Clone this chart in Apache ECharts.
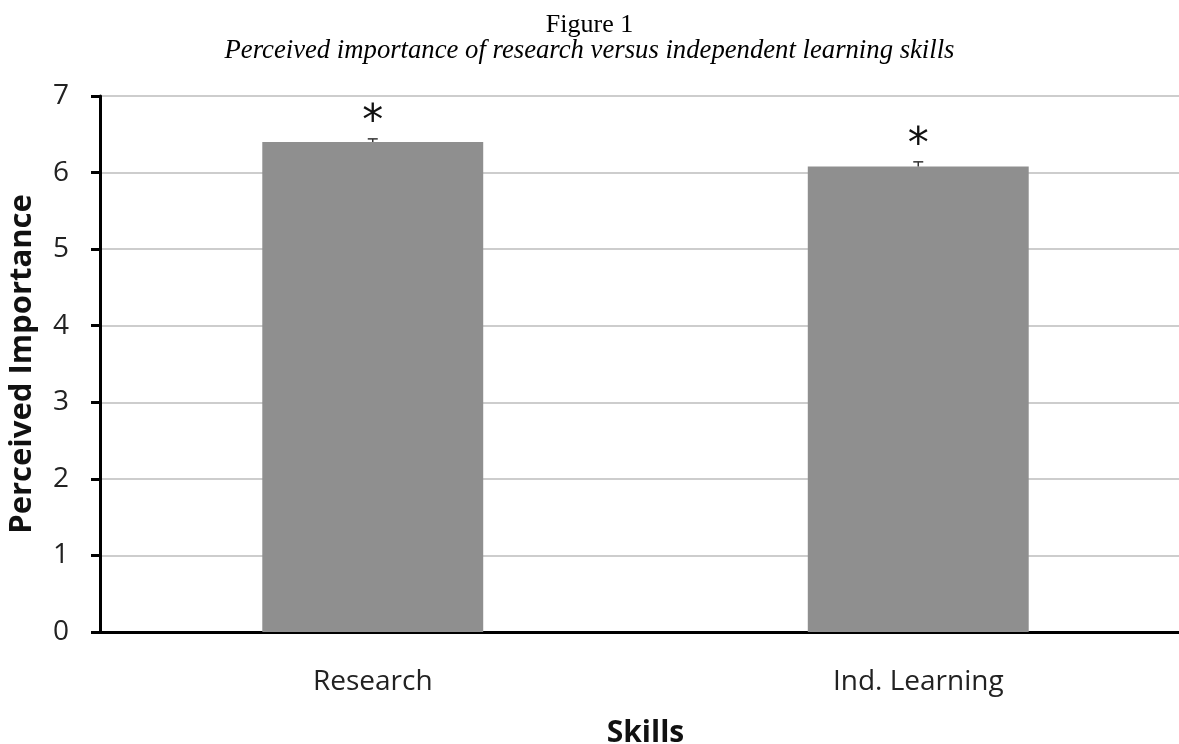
<!DOCTYPE html>
<html><head><meta charset="utf-8">
<script src="https://cdn.jsdelivr.net/npm/echarts@6/dist/echarts.min.js"></script>
<style>html,body{margin:0;padding:0;background:#fff}#c{width:1179px;height:744px}</style>
</head><body><div id="c"></div>
<script>
const categories = ['Research', 'Ind. Learning'];
const means = [6.4, 6.08];
const errors = [0.04, 0.06];
const marks = ['*', '*'];
const yTicks = [0, 1, 2, 3, 4, 5, 6, 7];

const chart = echarts.init(document.getElementById('c'));
const sans = 'Open Sans';
chart.setOption({
  animation: false,
  title: [
    {text: 'Figure 1', left: 'center', top: 7, textStyle: {fontFamily: 'Liberation Serif', fontWeight: 'normal', fontSize: 26, color: '#000'}},
    {text: 'Perceived importance of research versus independent learning skills', left: 'center', top: 32, textStyle: {fontFamily: 'Liberation Serif', fontStyle: 'italic', fontWeight: 'normal', fontSize: 26.7, color: '#000'}}
  ],
  grid: {left: 100, right: -12, top: 96, bottom: 112, containLabel: false, outerBoundsMode: 'none'},
  xAxis: {
    type: 'category', data: categories,
    axisLine: {lineStyle: {color: '#000', width: 3}},
    axisTick: {show: false},
    axisLabel: {fontFamily: sans, fontSize: 28, color: '#222', margin: 36},
    name: 'Skills', nameLocation: 'middle', nameGap: 86,
    nameTextStyle: {fontFamily: sans, fontWeight: 'bold', fontSize: 30, color: '#111'}
  },
  yAxis: {
    type: 'value', min: 0, max: 7, interval: 1,
    axisLine: {show: true, lineStyle: {color: '#000', width: 3}},
    axisTick: {show: true, inside: false, length: 9, lineStyle: {color: '#000', width: 3}},
    splitLine: {lineStyle: {color: '#bdbdbd', width: 1.5}},
    axisLabel: {fontFamily: sans, fontSize: 28, color: '#222', margin: 31,
      formatter: v => yTicks.includes(v) ? String(v) : ''},
    name: 'Perceived Importance', nameLocation: 'middle', nameGap: 62, nameRotate: 90,
    nameTextStyle: {fontFamily: sans, fontWeight: 'bold', fontSize: 31, color: '#111'}
  },
  series: [
    {type: 'bar', data: means, barWidth: '40.5%', itemStyle: {color: '#8f8f8f'}, z: 2},
    {
      type: 'custom', z: 3,
      data: means.map((m, i) => [i, m, errors[i]]),
      renderItem: (params, api) => {
        const i = api.value(0), m = api.value(1), e = api.value(2);
        const top = api.coord([i, m + e]);
        const base = api.coord([i, m]);
        const cap = 5;
        return {type: 'group', children: [
          {type: 'line', shape: {x1: top[0], y1: top[1], x2: base[0], y2: base[1]}, style: {stroke: '#333', lineWidth: 1.5}},
          {type: 'line', shape: {x1: top[0] - cap, y1: top[1], x2: top[0] + cap, y2: top[1]}, style: {stroke: '#333', lineWidth: 1.5}},
          {type: 'text', style: {text: marks[params.dataIndex], x: top[0], y: top[1] + 5, align: 'center', verticalAlign: 'bottom', font: '42px "DejaVu Sans"', fill: '#111'}}
        ]};
      }
    }
  ]
});
</script></body></html>
